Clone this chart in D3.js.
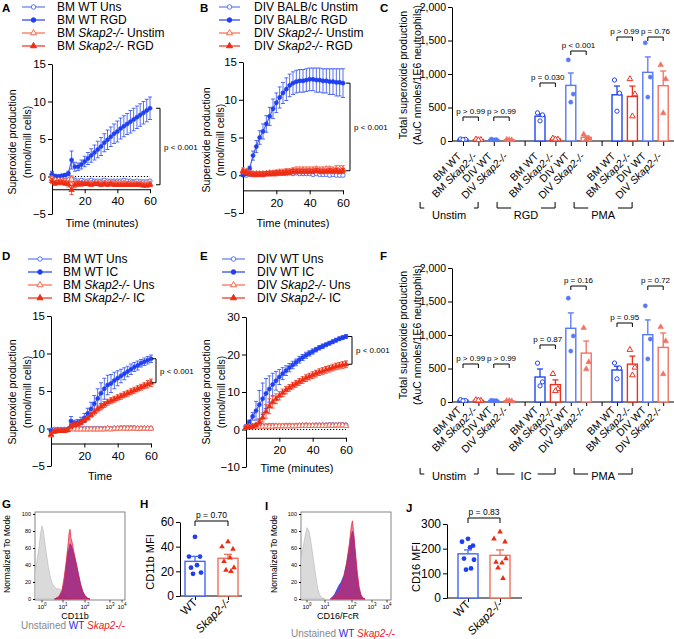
<!DOCTYPE html>
<html>
<head>
<meta charset="utf-8">
<script src="https://cdn.jsdelivr.net/npm/d3@7"></script>
<style>
  body { margin: 0; background: #fff; }
  svg { font-family: "Liberation Sans", Arial, sans-serif; }
</style>
</head>
<body>
<svg id="fig" width="674" height="639"></svg>
<script>
// ---- time course data (minutes, mean, SEM) ----
var timeMin = [0,2,4,6,8,10,12,14,16,18, 20,22,24,26,28,30,32,34,36,38, 40,42,44,46,48,50,52,54,56,58,60];

var aWtUns    = [0.2,0.0,-0.1,-0.1,0.0,-0.1,-0.3,-0.5,-0.6,-0.5, -0.6,-0.6,-0.5,-0.6,-0.6,-0.6,-0.5,-0.6,-0.6,-0.6, -0.6,-0.6,-0.5,-0.6,-0.6,-0.7,-0.6,-0.7,-0.7,-0.7,-0.6];
var aWtUnsErr = [0.4,0.3,0.2,0.2,0.2,0.2,0.4,0.3,0.2,0.2, 0.2,0.2,0.2,0.2,0.2,0.2,0.2,0.2,0.2,0.2, 0.2,0.2,0.2,0.2,0.2,0.2,0.2,0.2,0.2,0.2,0.2];
var aWtRgd    = [0.3,0.0,0.0,0.1,0.2,0.4,2.2,1.3,1.3,1.6, 2.0,2.4,2.8,3.2,3.6,4.0,4.5,4.9,5.3,5.7, 6.0,6.4,6.7,7.0,7.3,7.6,7.9,8.2,8.5,8.8,9.1];
var aWtRgdErr = [0.4,0.2,0.2,0.2,0.2,0.3,1.2,0.6,0.5,0.6, 0.7,0.8,0.9,1.0,1.1,1.2,1.2,1.3,1.3,1.3, 1.4,1.4,1.4,1.4,1.5,1.5,1.5,1.5,1.5,1.5,1.5];
var aKoUns    = [-0.3,-0.5,-0.5,-0.5,-0.6,-0.5,-0.4,-0.8,-0.9,-0.9, -0.9,-0.9,-0.9,-0.9,-0.9,-0.9,-0.9,-0.9,-0.9,-0.9, -0.9,-0.9,-0.9,-1.0,-0.9,-0.9,-1.0,-1.0,-1.0,-1.0,-1.0];
var aKoUnsErr = [0.3,0.2,0.2,0.2,0.2,0.2,0.4,0.2,0.2,0.2, 0.2,0.2,0.2,0.2,0.2,0.2,0.2,0.2,0.2,0.2, 0.2,0.2,0.2,0.2,0.2,0.2,0.2,0.2,0.2,0.2,0.2];
var aKoRgd    = [-0.6,-0.9,-0.8,-0.8,-0.9,-1.0,-1.8,-1.1,-1.0,-1.0, -1.0,-1.0,-1.1,-1.0,-1.0,-1.1,-1.0,-1.1,-1.0,-1.1, -1.1,-1.1,-1.1,-1.1,-1.1,-1.1,-1.1,-1.1,-1.2,-1.2,-1.1];
var aKoRgdErr = [0.3,0.3,0.3,0.3,0.3,0.4,0.6,0.4,0.3,0.3, 0.2,0.2,0.2,0.2,0.2,0.2,0.2,0.2,0.2,0.2, 0.2,0.2,0.2,0.2,0.2,0.2,0.2,0.2,0.2,0.2,0.2];

var bWtUns    = [0.1,0.0,0.1,0.2,0.1,0.2,0.1,0.2,0.2,0.3, 0.2,0.3,0.3,0.2,0.3,0.2,0.3,0.2,0.2,0.2, 0.2,0.1,0.2,0.1,0.1,0.1,0.0,0.1,0.0,0.0,0.0];
var bWtUnsErr = [0.2,0.2,0.2,0.2,0.2,0.2,0.2,0.2,0.2,0.2, 0.2,0.2,0.2,0.2,0.2,0.2,0.2,0.2,0.2,0.2, 0.2,0.2,0.2,0.2,0.2,0.2,0.2,0.2,0.2,0.2,0.2];
var bWtRgd    = [0.0,0.2,0.9,2.6,3.8,5.0,5.8,6.8,7.8,8.8, 9.6,10.3,10.9,11.4,11.9,12.2,12.4,12.5,12.5,12.6, 12.7,12.7,12.6,12.6,12.5,12.5,12.4,12.4,12.3,12.3,12.2];
var bWtRgdErr = [0.1,0.2,0.3,0.6,0.8,0.9,1.0,1.1,1.2,1.3, 1.3,1.4,1.4,1.5,1.5,1.5,1.5,1.5,1.5,1.5, 1.5,1.5,1.6,1.6,1.6,1.6,1.7,1.7,1.8,1.8,1.9];
var bKoUns    = [0.6,0.5,0.3,0.2,0.2,0.2,0.2,0.2,0.3,0.3, 0.3,0.4,0.4,0.5,0.5,0.6,0.7,0.7,0.7,0.7, 0.7,0.7,0.8,0.7,0.7,0.8,0.8,0.7,0.8,0.8,0.8];
var bKoUnsErr = [0.4,0.3,0.3,0.3,0.3,0.3,0.3,0.3,0.3,0.3, 0.4,0.4,0.4,0.4,0.4,0.4,0.4,0.4,0.4,0.4, 0.4,0.4,0.4,0.4,0.4,0.4,0.4,0.4,0.5,0.5,0.5];
var bKoRgd    = [0.5,0.4,0.2,0.1,0.1,0.1,0.1,0.2,0.2,0.2, 0.3,0.3,0.3,0.4,0.4,0.5,0.5,0.5,0.5,0.5, 0.5,0.5,0.6,0.5,0.5,0.5,0.6,0.5,0.6,0.5,0.6];
var bKoRgdErr = [0.3,0.3,0.3,0.3,0.3,0.3,0.3,0.3,0.3,0.3, 0.3,0.3,0.3,0.3,0.3,0.3,0.3,0.3,0.3,0.3, 0.3,0.3,0.3,0.3,0.3,0.3,0.3,0.3,0.3,0.3,0.3];

var dWtUns    = [-0.2,-0.1,-0.1,-0.1,-0.1,-0.1,0.0,0.0,0.0,0.0, 0.0,0.0,0.0,0.0,0.0,0.0,0.0,0.0,0.0,0.0, 0.0,0.1,0.1,0.1,0.1,0.1,0.0,0.0,0.0,0.0,0.0];
var dWtUnsErr = [0.2,0.2,0.2,0.2,0.2,0.2,0.2,0.2,0.2,0.2, 0.2,0.2,0.2,0.2,0.2,0.2,0.2,0.2,0.2,0.2, 0.2,0.2,0.2,0.2,0.2,0.2,0.2,0.2,0.2,0.2,0.2];
var dWtIc     = [-0.3,-0.3,-0.3,-0.3,-0.2,-0.2,1.0,0.7,0.8,1.0, 1.4,2.0,2.6,3.3,4.0,4.7,5.3,5.8,6.0,6.4, 6.7,7.0,7.3,7.6,7.9,8.2,8.4,8.7,8.9,9.1,9.3];
var dWtIcErr  = [0.2,0.2,0.2,0.2,0.2,0.2,0.6,0.4,0.4,0.5, 0.6,0.7,0.9,1.1,1.3,1.4,1.4,1.3,1.2,1.1, 1.0,0.9,0.8,0.7,0.7,0.6,0.6,0.5,0.5,0.5,0.5];
var dKoUns    = [-0.9,-0.4,-0.3,-0.3,-0.3,-0.2,0.0,-0.1,-0.1,-0.1, -0.1,-0.1,-0.1,-0.1,-0.1,-0.1,-0.1,0.0,-0.1,0.0, 0.0,0.0,0.0,0.0,0.0,0.0,0.0,0.0,0.0,0.0,0.0];
var dKoUnsErr = [0.2,0.2,0.2,0.2,0.2,0.2,0.2,0.2,0.2,0.2, 0.2,0.2,0.2,0.2,0.2,0.2,0.2,0.2,0.2,0.2, 0.2,0.2,0.2,0.2,0.2,0.2,0.2,0.2,0.2,0.2,0.2];
var dKoIc     = [-0.8,-0.4,-0.3,-0.3,-0.3,-0.2,0.3,0.5,0.6,0.8, 1.1,1.4,1.8,2.2,2.6,2.9,3.2,3.5,3.7,3.9, 4.1,4.3,4.5,4.7,4.9,5.1,5.3,5.5,5.7,5.9,6.1];
var dKoIcErr  = [0.2,0.2,0.2,0.2,0.2,0.2,0.3,0.3,0.3,0.3, 0.3,0.3,0.3,0.4,0.4,0.4,0.4,0.4,0.4,0.4, 0.4,0.4,0.4,0.4,0.4,0.4,0.4,0.4,0.4,0.5,0.5];

var eWtUns    = [0.8,0.9,1.0,1.0,1.0,1.0,1.0,1.1,1.1,1.0, 1.0,1.0,1.1,1.1,1.0,1.1,1.1,1.1,1.2,1.1, 1.1,1.2,1.2,1.2,1.2,1.3,1.3,1.2,1.3,1.3,1.2];
var eWtUnsErr = [0.4,0.4,0.4,0.4,0.4,0.4,0.4,0.4,0.4,0.4, 0.4,0.4,0.4,0.4,0.4,0.4,0.4,0.4,0.4,0.4, 0.4,0.4,0.4,0.4,0.4,0.4,0.4,0.4,0.4,0.4,0.4];
var eWtIc     = [0.8,2.0,3.5,5.0,6.6,8.2,9.6,10.8,12.0,13.0, 14.0,14.9,15.7,16.5,17.2,17.9,18.6,19.2,19.8,20.3, 20.8,21.3,21.8,22.2,22.6,23.0,23.4,23.8,24.2,24.5,24.8];
var eWtIcErr  = [0.2,0.5,1.0,2.5,3.8,4.2,4.0,3.5,3.0,2.5, 2.0,1.6,1.3,1.1,1.0,0.9,0.9,0.8,0.8,0.7, 0.7,0.6,0.6,0.6,0.5,0.5,0.5,0.5,0.5,0.5,0.5];
var eKoUns    = [0.6,0.7,0.7,0.8,0.8,0.8,0.8,0.8,0.8,0.9, 0.9,0.9,0.9,0.9,0.9,0.9,1.0,1.0,1.0,1.0, 1.0,1.0,1.0,1.0,1.0,1.1,1.0,1.1,1.1,1.1,1.0];
var eKoUnsErr = [0.4,0.4,0.4,0.4,0.4,0.4,0.4,0.4,0.4,0.4, 0.4,0.4,0.4,0.4,0.4,0.4,0.4,0.4,0.4,0.4, 0.4,0.4,0.4,0.4,0.4,0.4,0.4,0.4,0.4,0.4,0.4];
var eKoIc     = [0.5,0.6,0.8,1.2,2.0,3.2,4.8,6.2,7.3,8.2, 9.0,9.8,10.5,11.1,11.7,12.2,12.7,13.2,13.7,14.1, 14.5,14.9,15.3,15.6,15.9,16.2,16.5,16.8,17.0,17.2,17.4];
var eKoIcErr  = [0.2,0.2,0.3,0.5,0.8,1.2,1.8,2.0,1.6,1.3, 1.1,1.0,1.0,0.9,0.9,0.9,0.9,0.9,0.9,0.9, 0.9,0.9,0.9,0.9,0.9,0.9,0.9,0.9,0.9,0.9,0.9];

// ---- total superoxide (AuC) bar data ----
var barCats = ["BM WT", "BM Skap2-/-", "DIV WT", "DIV Skap2-/-"];
var cGroups = ["Unstim", "RGD", "PMA"];
var cMeans  = [[25, 20, 22, 18], [370, 30, 830, 55], [690, 665, 1025, 825]];
var cSems   = [[5, 4, 5, 4], [35, 8, 185, 20], [130, 155, 230, 220]];
var cPoints = [
  [[30, 25, 20], [25, 18, 15], [28, 20, 18], [22, 15, 18]],
  [[420, 390, 300], [40, 25, 25], [1210, 700, 580], [100, 40, 25]],
  [[910, 715, 445], [925, 700, 370], [1465, 955, 655], [1135, 925, 418]]
];
var fGroups = ["Unstim", "IC", "PMA"];
var fMeans  = [[25, 25, 22, 18], [373, 260, 1100, 730], [478, 565, 1005, 815]];
var fSems   = [[5, 5, 4, 4], [120, 70, 230, 180], [55, 120, 220, 215]];
var fPoints = [
  [[35, 22, 18], [30, 20, 25], [25, 20, 22], [20, 15, 18]],
  [[580, 300, 240], [420, 195, 165], [1550, 985, 760], [1105, 597, 492]],
  [[582, 507, 345], [780, 515, 400], [1435, 940, 642], [1120, 910, 418]]
];
var cPvals = [
  {g: 0, a: 0, b: 1, v: 358, t: "p > 0.99"}, {g: 0, a: 2, b: 3, v: 358, t: "p > 0.99"},
  {g: 1, a: 0, b: 1, v: 866, t: "p = 0.030"}, {g: 1, a: 2, b: 3, v: 1343, t: "p < 0.001"},
  {g: 2, a: 0, b: 1, v: 1552, t: "p > 0.99"}, {g: 2, a: 2, b: 3, v: 1552, t: "p = 0.76"}
];
var fPvals = [
  {g: 0, a: 0, b: 1, v: 567, t: "p > 0.99"}, {g: 0, a: 2, b: 3, v: 567, t: "p > 0.99"},
  {g: 1, a: 0, b: 1, v: 851, t: "p = 0.87"}, {g: 1, a: 2, b: 3, v: 1731, t: "p = 0.16"},
  {g: 2, a: 0, b: 1, v: 1179, t: "p = 0.95"}, {g: 2, a: 2, b: 3, v: 1731, t: "p = 0.72"}
];

// ---- MFI data ----
var mfiCats = ["WT", "Skap2-/-"];
var cd11bWt = [48, 32, 32, 25, 23, 19, 18];
var cd11bKo = [44, 40, 38, 31, 28, 23, 21, 20];
var cd11bMean = [28.1, 30.6], cd11bSem = [4.0, 3.2];
var cd16Wt = [240, 228, 212, 205, 160, 155, 115, 120];
var cd16Ko = [268, 240, 228, 142, 145, 160, 122, 80];
var cd16Mean = [179, 173], cd16Sem = [16, 22];

// ---- flow histograms (log10 decade, % of mode) ----
var gGreyX = [-0.35,-0.25,-0.15,-0.05,0.0,0.05,0.12,0.2,0.3,0.4,0.5,0.6,0.7,0.8,0.9,1.0,1.1,1.2,1.3];
var gGreyY = [30,45,62,80,86,82,70,55,38,25,18,14,12,12,11,8,4,1,0];
var gStainX = [0.6,0.8,0.95,1.05,1.15,1.22,1.28,1.32,1.36,1.42,1.5,1.6,1.7,1.8,1.9,2.0,2.1,2.2];
var gRedY   = [0,3,10,25,45,62,78,82,72,66,55,42,28,16,8,4,1,0];
var gBlueY  = [0,2,8,20,40,55,60,65,64,60,52,42,30,18,9,4,1,0];
var iGreyX = [-0.35,-0.25,-0.15,-0.05,0.0,0.05,0.12,0.2,0.3,0.4,0.5,0.6,0.7,0.8,0.9,1.0];
var iGreyY = [48,58,70,80,84,82,79,70,55,40,25,12,5,2,0.5,0];
var iStainX = [1.2,1.35,1.5,1.6,1.7,1.8,1.9,1.97,2.02,2.08,2.15,2.25,2.35,2.45,2.55,2.65];
var iRedY   = [0,3,8,14,25,42,65,85,92,80,60,35,15,5,1,0];
var iBlueY  = [0,5,15,20,28,42,60,75,80,75,58,30,12,4,1,0];
var histTicks = [0, 20, 40, 60, 80, 100];
var decades = [0, 1, 2, 3, 4];

var svg = d3.select("#fig");
var WT_UNS = "#5a7af5", WT_STIM = "#1f3ff0", KO_UNS = "#f36a50", KO_STIM = "#ee2d14";
var barColors = ["#2446ee", "#ee3020", "#5878f6", "#f47060"];

function rich(sel, str) {
  str.split(/(Skap2-\/-)/).forEach(function(part) {
    if (!part) return;
    sel.append("tspan").text(part).attr("font-style", part === "Skap2-/-" ? "italic" : null);
  });
  return sel;
}

function styleAxis(g, fs) {
  g.attr("font-family", null).attr("font-size", fs);
  g.selectAll("path, line").attr("stroke", "#000").attr("stroke-width", 1);
  g.selectAll("text").attr("fill", "#000");
}

function marker(shape, size) {
  return d3.symbol().type(shape === "tri" ? d3.symbolTriangle : d3.symbolCircle).size(size);
}

function letter(t, x, y) {
  svg.append("text").attr("x", x).attr("y", y).attr("font-weight", "bold").attr("font-size", 11.5).text(t);
}

function timePanel(p) {
  var x = d3.scaleLinear().domain([0, 60]).range(p.xr);
  var y = d3.scaleLinear().domain(p.yd).range(p.yr);
  var g = svg.append("g");

  var ya = g.append("g").attr("transform", "translate(" + p.xr[0] + ",0)")
    .call(d3.axisLeft(y).tickValues(p.yTicks).tickSize(4).tickSizeOuter(0).tickPadding(2));
  styleAxis(ya, 11.5);
  var xa = g.append("g").attr("transform", "translate(0," + y(p.xAt) + ")")
    .call(d3.axisBottom(x).tickValues([20, 40, 60]).tickSize(4).tickSizeOuter(0).tickPadding(4));
  styleAxis(xa, 11.5);

  g.append("text").attr("x", p.xLab[0]).attr("y", p.xLab[1]).attr("text-anchor", "middle")
    .attr("font-size", 11).text(p.xLabel);
  [["Superoxide production", p.yLabX[0]], ["(nmol/mill cells)", p.yLabX[1]]].forEach(function(l) {
    g.append("text").attr("transform", "translate(" + l[1] + "," + p.yLabY + ") rotate(-90)")
      .attr("text-anchor", "middle").attr("font-size", 10.5).text(l[0]);
  });

  if (p.dotted) {
    g.append("line").attr("x1", x(p.dotted[0])).attr("x2", x(p.dotted[1]))
      .attr("y1", y(0)).attr("y2", y(0)).attr("stroke", "#000").attr("stroke-width", 1.2)
      .attr("stroke-dasharray", "1.2,1.8");
  }

  p.series.forEach(function(s) {
    var pts = timeMin.map(function(t, i) { return {t: t, v: s.v[i], e: s.e[i]}; });
    var sg = g.append("g");
    var eb = sg.append("g").attr("stroke", s.c).attr("stroke-opacity", 0.75).attr("stroke-width", 1);
    eb.selectAll("line.v").data(pts).enter().append("line")
      .attr("x1", function(d) { return x(d.t); }).attr("x2", function(d) { return x(d.t); })
      .attr("y1", function(d) { return y(d.v - d.e); }).attr("y2", function(d) { return y(d.v + d.e); });
    eb.selectAll("line.t").data(pts).enter().append("line")
      .attr("x1", function(d) { return x(d.t) - 2; }).attr("x2", function(d) { return x(d.t) + 2; })
      .attr("y1", function(d) { return y(d.v + d.e); }).attr("y2", function(d) { return y(d.v + d.e); });
    eb.selectAll("line.b").data(pts).enter().append("line")
      .attr("x1", function(d) { return x(d.t) - 2; }).attr("x2", function(d) { return x(d.t) + 2; })
      .attr("y1", function(d) { return y(d.v - d.e); }).attr("y2", function(d) { return y(d.v - d.e); });
    sg.append("path").datum(pts)
      .attr("d", d3.line().x(function(d) { return x(d.t); }).y(function(d) { return y(d.v); }))
      .attr("fill", "none").attr("stroke", s.c).attr("stroke-opacity", 0.8).attr("stroke-width", 1.2);
    sg.selectAll("path.m").data(pts).enter().append("path")
      .attr("transform", function(d) { return "translate(" + x(d.t) + "," + y(d.v) + ")"; })
      .attr("d", marker(s.shape, 14))
      .attr("fill", s.open ? "#fff" : s.c).attr("stroke", s.c).attr("stroke-width", s.open ? 1 : 0.5);
  });

  // significance bracket between stimulated series at 60 min
  var s1 = p.series[1], s2 = p.series[3];
  var yTop = y(s1.v[s1.v.length - 1]), yBot = y(s2.v[s2.v.length - 1]);
  g.append("path").attr("stroke", "#000").attr("stroke-width", 1).attr("fill", "none")
    .attr("d", "M" + (p.bx - 4) + "," + yTop + "H" + p.bx + "V" + yBot + "H" + (p.bx - 4));
  g.append("text").attr("x", p.bx + 4).attr("y", (yTop + yBot) / 2 + 3).attr("font-size", 8).text("p < 0.001");

  // legend
  p.series.forEach(function(s, i) {
    var ly = p.leg.y0 + i * 13;
    g.append("line").attr("x1", p.leg.x0).attr("x2", p.leg.x1).attr("y1", ly).attr("y2", ly)
      .attr("stroke", s.c).attr("stroke-width", 1.2);
    g.append("path").attr("transform", "translate(" + (p.leg.x0 + p.leg.x1) / 2 + "," + ly + ")")
      .attr("d", marker(s.shape, 16)).attr("fill", s.open ? "#fff" : s.c).attr("stroke", s.c);
    rich(g.append("text").attr("x", p.leg.tx).attr("y", ly + 4).attr("font-size", 12), s.name);
  });
}

function barPanel(p) {
  var slots = [];
  p.groups.forEach(function(gn, gi) {
    barCats.forEach(function(c) { slots.push(gn + "|" + c); });
    if (gi < p.groups.length - 1) slots.push("gap" + gi);
  });
  var x = d3.scalePoint().domain(slots).range([455.3, 670.9]).padding(0.5);
  var y = d3.scaleLinear().domain([0, 2000]).range(p.yr);
  var y0 = y(0);
  var g = svg.append("g");

  var ya = g.append("g").attr("transform", "translate(452,0)")
    .call(d3.axisLeft(y).tickValues([0, 500, 1000, 1500, 2000]).tickSize(4).tickSizeOuter(0).tickPadding(2));
  styleAxis(ya, 10.5);
  var xa = g.append("g").attr("transform", "translate(0," + y0 + ")")
    .call(d3.axisBottom(x).tickFormat("").tickSize(p.tick).tickSizeOuter(0));
  styleAxis(xa, 10);
  xa.select(".domain").remove();
  g.append("line").attr("x1", 452).attr("x2", 674).attr("y1", y0).attr("y2", y0).attr("stroke", "#000");

  [["Total superoxide production", 407], ["(AuC nmoles/1E6 neutrophils)", 421]].forEach(function(l) {
    g.append("text").attr("transform", "translate(" + l[1] + "," + p.yLabY + ") rotate(-90)")
      .attr("text-anchor", "middle").attr("font-size", 10.5).text(l[0]);
  });

  var items = [];
  p.groups.forEach(function(gn, gi) {
    barCats.forEach(function(c, ci) {
      items.push({slot: gn + "|" + c, label: c, ci: ci, mean: p.means[gi][ci], sem: p.sems[gi][ci], pts: p.points[gi][ci]});
    });
  });

  var bw = 10;
  g.selectAll("rect.bar").data(items).enter().append("rect")
    .attr("x", function(d) { return x(d.slot) - bw / 2; }).attr("width", bw)
    .attr("y", function(d) { return y(d.mean); }).attr("height", function(d) { return y0 - y(d.mean); })
    .attr("fill", "#fff").attr("stroke", function(d) { return barColors[d.ci]; }).attr("stroke-width", 1.4);
  var eb = g.append("g").attr("stroke-width", 1.3);
  items.forEach(function(d) {
    var cx = x(d.slot), col = barColors[d.ci];
    eb.append("line").attr("x1", cx).attr("x2", cx).attr("y1", y(d.mean)).attr("y2", y(d.mean + d.sem)).attr("stroke", col);
    eb.append("line").attr("x1", cx - 3).attr("x2", cx + 3).attr("y1", y(d.mean + d.sem)).attr("y2", y(d.mean + d.sem)).attr("stroke", col);
    var jit = [-2.5, 2.5, 0];
    d.pts.forEach(function(v, k) {
      var open = d.ci < 2;
      g.append("path").attr("transform", "translate(" + (cx + jit[k]) + "," + y(v) + ")")
        .attr("d", marker(d.ci % 2 ? "tri" : "circ", 14))
        .attr("fill", open ? "#fff" : col).attr("stroke", col).attr("stroke-width", open ? 1 : 0.5);
    });
  });

  // rotated category labels
  g.selectAll("text.cat").data(items).enter().append("text")
    .attr("transform", function(d) { return "translate(" + (x(d.slot) - 1) + "," + (y0 + p.labOff) + ") rotate(-45)"; })
    .attr("text-anchor", "end").attr("font-size", 10.5)
    .each(function(d) { rich(d3.select(this), d.label); });

  // group brackets
  p.groups.forEach(function(gn, gi) {
    var cx = (x(gn + "|" + barCats[0]) + x(gn + "|" + barCats[3])) / 2 - 37;
    var by = y0 + p.brOff, half = 29, tw = gn.length * 3.3 + 5;
    g.append("path").attr("fill", "none").attr("stroke", "#000")
      .attr("d", "M" + (cx - half) + "," + (by - 6) + "V" + by + "H" + (cx - tw) +
                 "M" + (cx + tw) + "," + by + "H" + (cx + half) + "V" + (by - 6));
    g.append("text").attr("x", cx).attr("y", y0 + 78).attr("text-anchor", "middle").attr("font-size", 11).text(gn);
  });

  // p-value brackets
  p.pvals.forEach(function(pv) {
    var gn = p.groups[pv.g];
    var xa1 = x(gn + "|" + barCats[pv.a]), xb1 = x(gn + "|" + barCats[pv.b]), by = y(pv.v);
    g.append("path").attr("fill", "none").attr("stroke", "#000")
      .attr("d", "M" + xa1 + "," + (by + 4) + "V" + by + "H" + xb1 + "V" + (by + 4));
    g.append("text").attr("x", (xa1 + xb1) / 2).attr("y", by - 3).attr("text-anchor", "middle")
      .attr("font-size", 8).text(pv.t);
  });
}

function mfiPanel(p) {
  var x = d3.scalePoint().domain(mfiCats).range(p.xr).padding(0.5);
  var y = d3.scaleLinear().domain(p.yd).range(p.yr);
  var y0 = y(0);
  var g = svg.append("g");
  var ya = g.append("g").attr("transform", "translate(" + p.axX + ",0)")
    .call(d3.axisLeft(y).tickValues(p.yTicks).tickSize(4).tickSizeOuter(0).tickPadding(2));
  styleAxis(ya, 12);
  var xa = g.append("g").attr("transform", "translate(0," + y0 + ")")
    .call(d3.axisBottom(x).tickFormat("").tickSize(4).tickSizeOuter(0));
  styleAxis(xa, 10);
  xa.select(".domain").remove();
  g.append("line").attr("x1", p.axX).attr("x2", p.axEnd).attr("y1", y0).attr("y2", y0).attr("stroke", "#000");

  g.append("text").attr("transform", "translate(" + p.yLab[0] + "," + p.yLab[1] + ") rotate(-90)")
    .attr("text-anchor", "middle").attr("font-size", 11).text(p.yLabel);

  var cols = ["#4466f5", "#f2705a"], dots = ["#1f3ff0", "#ee2d14"];
  var jit = [0, -6, 5, 2, -4, 6, -2, 3];
  [p.wt, p.ko].forEach(function(vals, ci) {
    var cx = x(mfiCats[ci]);
    g.append("rect").attr("x", cx - 10).attr("width", 20).attr("y", y(p.mean[ci]))
      .attr("height", y0 - y(p.mean[ci])).attr("fill", "#fff").attr("stroke", cols[ci]).attr("stroke-width", 1.4);
    g.selectAll(null).data(vals).enter().append("path")
      .attr("transform", function(v, k) { return "translate(" + (cx + jit[k]) + "," + y(v) + ")"; })
      .attr("d", marker(ci ? "tri" : "circ", ci ? 14 : 18)).attr("fill", dots[ci]);
    var top = y(p.mean[ci] + p.sem[ci]);
    g.append("line").attr("x1", cx).attr("x2", cx).attr("y1", y(p.mean[ci])).attr("y2", top).attr("stroke", cols[ci]).attr("stroke-width", 1.3);
    g.append("line").attr("x1", cx - 4).attr("x2", cx + 4).attr("y1", top).attr("y2", top).attr("stroke", cols[ci]).attr("stroke-width", 1.3);
  });

  mfiCats.forEach(function(c) {
    rich(g.append("text").attr("transform", "translate(" + (x(c) + 3) + "," + (y0 + 7) + ") rotate(-45)")
      .attr("text-anchor", "end").attr("font-size", 11.5), c);
  });

  var xa1 = x(mfiCats[0]), xb1 = x(mfiCats[1]);
  g.append("path").attr("fill", "none").attr("stroke", "#000")
    .attr("d", "M" + xa1 + "," + (p.pY + 5) + "V" + p.pY + "H" + xb1 + "V" + (p.pY + 5));
  g.append("text").attr("x", (xa1 + xb1) / 2).attr("y", p.pY - 3).attr("text-anchor", "middle")
    .attr("font-size", 8.5).text(p.pText);
}

function histPanel(p) {
  var x = d3.scaleLinear().domain([-0.35, 0, 1, 2, 3, 4]).range(p.xr);
  var y = d3.scaleLinear().domain([0, 100]).range([599, 514]);
  var g = svg.append("g");
  g.append("rect").attr("x", p.box[0]).attr("y", 512).attr("width", p.box[1] - p.box[0]).attr("height", 88)
    .attr("fill", "none").attr("stroke", "#666").attr("stroke-width", 0.8);

  var area = d3.area().x(function(d) { return x(d[0]); }).y0(y(0)).y1(function(d) { return y(d[1]); });
  g.append("path").datum(d3.zip(p.greyX, p.greyY)).attr("d", area)
    .attr("fill", "#dadada").attr("stroke", "#b5b5b5").attr("stroke-width", 0.6);
  g.append("path").datum(d3.zip(p.stainX, p.blueY)).attr("d", area)
    .attr("fill", "#3a2ad8").attr("fill-opacity", 0.85).attr("stroke", "#2a20d0").attr("stroke-width", 0.6);
  g.append("path").datum(d3.zip(p.stainX, p.redY)).attr("d", area)
    .attr("fill", "#e8203a").attr("fill-opacity", 0.55).attr("stroke", "#e8203a").attr("stroke-width", 0.7);

  var ya = g.append("g").attr("transform", "translate(" + p.box[0] + ",0)")
    .call(d3.axisLeft(y).tickValues(histTicks).tickSize(2).tickSizeOuter(0).tickPadding(2));
  styleAxis(ya, 5.5);
  ya.select(".domain").remove();
  g.selectAll("line.xt").data(decades).enter().append("line")
    .attr("x1", function(d) { return x(d); }).attr("x2", function(d) { return x(d); })
    .attr("y1", 600).attr("y2", 602.5).attr("stroke", "#000").attr("stroke-width", 0.7);
  decades.forEach(function(d) {
    var t = g.append("text").attr("x", x(d)).attr("y", 609).attr("text-anchor", "middle").attr("font-size", 6);
    t.append("tspan").text("10");
    t.append("tspan").attr("dy", -3).attr("font-size", 4.5).text(d);
  });

  g.append("text").attr("transform", "translate(" + p.yLabX + ",554) rotate(-90)")
    .attr("text-anchor", "middle").attr("font-size", 8.5).text("Normalized To Mode");
  g.append("text").attr("x", p.xLab[0]).attr("y", 619).attr("text-anchor", "middle").attr("font-size", 9).text(p.xLabel);
  var lt = g.append("text").attr("x", p.leg[0]).attr("y", p.leg[1]).attr("font-size", 10);
  lt.append("tspan").attr("fill", "#888").text("Unstained ");
  lt.append("tspan").attr("fill", "#2b2bd8").text("WT ");
  lt.append("tspan").attr("fill", "#e8202a").attr("font-style", "italic").text("Skap2-/-");
}

// ---- panels ----
timePanel({
  xr: [52, 150], yd: [-5, 15], yr: [214, 64], yTicks: [-5, 0, 5, 10, 15], xAt: -1.7,
  xLabel: "Time (minutes)", xLab: [102, 227], yLabX: [16, 31], yLabY: 142, dotted: [14, 60], bx: 160,
  leg: {x0: 22, x1: 45, tx: 57, y0: 7},
  series: [
    {name: "BM WT Uns", v: aWtUns, e: aWtUnsErr, c: WT_UNS, shape: "circ", open: true},
    {name: "BM WT RGD", v: aWtRgd, e: aWtRgdErr, c: WT_STIM, shape: "circ", open: false},
    {name: "BM Skap2-/- Unstim", v: aKoUns, e: aKoUnsErr, c: KO_UNS, shape: "tri", open: true},
    {name: "BM Skap2-/- RGD", v: aKoRgd, e: aKoRgdErr, c: KO_STIM, shape: "tri", open: false}
  ]
});
timePanel({
  xr: [243, 343], yd: [-5, 15], yr: [213, 62], yTicks: [-5, 0, 5, 10, 15], xAt: -2,
  xLabel: "Time (minutes)", xLab: [293, 227], yLabX: [210, 224], yLabY: 140, dotted: null, bx: 350,
  leg: {x0: 219, x1: 240, tx: 254, y0: 7},
  series: [
    {name: "DIV BALB/c Unstim", v: bWtUns, e: bWtUnsErr, c: WT_UNS, shape: "circ", open: true},
    {name: "DIV BALB/c RGD", v: bWtRgd, e: bWtRgdErr, c: WT_STIM, shape: "circ", open: false},
    {name: "DIV Skap2-/- Unstim", v: bKoUns, e: bKoUnsErr, c: KO_UNS, shape: "tri", open: true},
    {name: "DIV Skap2-/- RGD", v: bKoRgd, e: bKoRgdErr, c: KO_STIM, shape: "tri", open: false}
  ]
});
timePanel({
  xr: [51, 151], yd: [-5, 15], yr: [466, 316], yTicks: [-5, 0, 5, 10, 15], xAt: -2,
  xLabel: "Time", xLab: [100, 480], yLabX: [16, 31], yLabY: 392, dotted: null, bx: 156,
  leg: {x0: 28, x1: 52, tx: 63, y0: 259},
  series: [
    {name: "BM WT Uns", v: dWtUns, e: dWtUnsErr, c: WT_UNS, shape: "circ", open: true},
    {name: "BM WT IC", v: dWtIc, e: dWtIcErr, c: WT_STIM, shape: "circ", open: false},
    {name: "BM Skap2-/- Uns", v: dKoUns, e: dKoUnsErr, c: KO_UNS, shape: "tri", open: true},
    {name: "BM Skap2-/- IC", v: dKoIc, e: dKoIcErr, c: KO_STIM, shape: "tri", open: false}
  ]
});
timePanel({
  xr: [246, 346], yd: [-10, 30], yr: [467, 317], yTicks: [-10, 0, 10, 20, 30], xAt: -2.2,
  xLabel: "Time (minutes)", xLab: [297, 472], yLabX: [210, 225], yLabY: 392, dotted: [0, 60], bx: 352,
  leg: {x0: 222, x1: 245, tx: 257, y0: 259},
  series: [
    {name: "DIV WT Uns", v: eWtUns, e: eWtUnsErr, c: WT_UNS, shape: "circ", open: true},
    {name: "DIV WT IC", v: eWtIc, e: eWtIcErr, c: WT_STIM, shape: "circ", open: false},
    {name: "DIV Skap2-/- Uns", v: eKoUns, e: eKoUnsErr, c: KO_UNS, shape: "tri", open: true},
    {name: "DIV Skap2-/- IC", v: eKoIc, e: eKoIcErr, c: KO_STIM, shape: "tri", open: false}
  ]
});

barPanel({groups: cGroups, means: cMeans, sems: cSems, points: cPoints, pvals: cPvals,
  yr: [141, 7], yLabY: 75, tick: 5, labOff: 16, brOff: 67});
barPanel({groups: fGroups, means: fMeans, sems: fSems, points: fPoints, pvals: fPvals,
  yr: [402, 268], yLabY: 335, tick: 4, labOff: 9, brOff: 72});

histPanel({xr: [35, 42, 63, 85, 110, 122], box: [35, 125], greyX: gGreyX, greyY: gGreyY,
  stainX: gStainX, redY: gRedY, blueY: gBlueY, yLabX: 10, xLabel: "CD11b", xLab: [75], leg: [21, 629]});
histPanel({xr: [301, 307, 325, 352, 372, 387], box: [301, 391], greyX: iGreyX, greyY: iGreyY,
  stainX: iStainX, redY: iRedY, blueY: iBlueY, yLabX: 277, xLabel: "CD16/FcR", xLab: [338], leg: [291, 637]});

mfiPanel({xr: [178.5, 244.5], yd: [0, 60], yr: [596, 522], yTicks: [0, 20, 40, 60], axX: 180, axEnd: 242,
  wt: cd11bWt, ko: cd11bKo, mean: cd11bMean, sem: cd11bSem, yLabel: "CD11b MFI", yLab: [154, 562],
  pY: 521, pText: "p = 0.70"});
mfiPanel({xr: [452, 516], yd: [0, 300], yr: [598, 524], yTicks: [0, 100, 200, 300], axX: 447, axEnd: 522,
  wt: cd16Wt, ko: cd16Ko, mean: cd16Mean, sem: cd16Sem, yLabel: "CD16 MFI", yLab: [420, 567],
  pY: 518, pText: "p = 0.83"});

letter("A", 2, 12); letter("B", 200, 12); letter("C", 380, 12);
letter("D", 2, 260); letter("E", 200, 260); letter("F", 380, 260);
letter("G", 2, 508); letter("H", 140, 508); letter("I", 265, 510); letter("J", 406, 512);
</script>
</body>
</html>
